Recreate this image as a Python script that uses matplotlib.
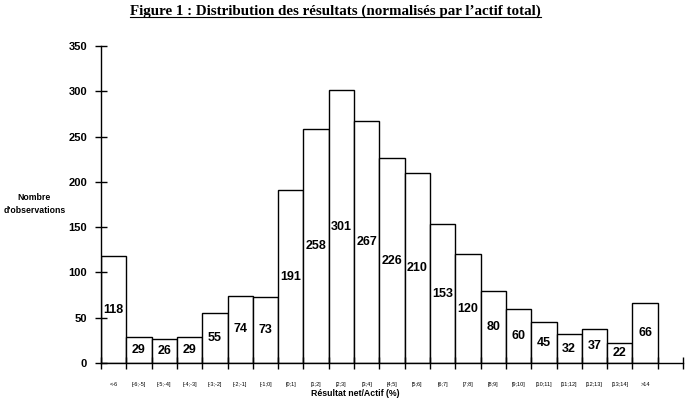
import matplotlib
matplotlib.use("Agg")
import matplotlib.pyplot as plt
from matplotlib.lines import Line2D
import numpy as np

categories = ["<-6", "[-6;-5]", "[-5;-4]", "[-4;-3]", "[-3;-2]", "[-2;-1]", "[-1;0]",
              "[0;1]", "[1;2]", "[2;3]", "[3;4]", "[4;5]", "[5;6]", "[6;7]", "[7;8]",
              "[8;9]", "[9;10]", "[10;11]", "[11;12]", "[12;13]", "[13;14]", ">14"]
counts = [118, 29, 26, 29, 55, 74, 73, 191, 258, 301, 267, 226, 210, 153, 120,
          80, 60, 45, 32, 37, 22, 66]

yticks = [0, 50, 100, 150, 200, 250, 300, 350]

plt.rcParams["font.family"] = ["Liberation Sans", "DejaVu Sans"]

fig = plt.figure(figsize=(6.9, 4.04), dpi=100)
ax = fig.add_axes([0.1464, 0.1015, 0.8435, 0.7845])

n = len(counts)
x = np.arange(n)
ax.bar(x + 0.5, counts, width=1.0, color="white", edgecolor="black", linewidth=1.0)

# value label in the middle of each bar
for xi, v in zip(x, counts):
    ax.text(xi + 0.5, v / 2, str(v), ha="center", va="center",
            fontsize=9, fontweight="bold")

ax.set_xlim(0, n + 1)
ax.set_ylim(0, 350)
ax.set_yticks(yticks)
ax.set_yticklabels([str(t) for t in yticks], fontsize=8, fontweight="bold")
ax.set_xticks(np.arange(0, n + 2))
ax.set_xticklabels([])
ax.set_xticks(x + 0.5, minor=True)
ax.set_xticklabels(categories, minor=True, fontsize=4)
ax.tick_params(axis="x", which="minor", length=0, pad=14)
ax.tick_params(axis="both", which="major", direction="inout", length=8, width=1)
ax.tick_params(axis="y", pad=6)

for s in ["top", "right"]:
    ax.spines[s].set_visible(False)
ax.spines["left"].set_linewidth(1)
ax.spines["bottom"].set_linewidth(1)

fig.text(0.515, 0.027, "Résultat net/Actif (%)", ha="center", va="center",
         fontsize=6.3, fontweight="bold")
fig.text(0.05, 0.495, "Nombre\nd'observations", ha="center", va="center",
         fontsize=6.3, fontweight="bold", linespacing=1.6)

title = fig.text(0.486, 0.972, "Figure 1 : Distribution des résultats (normalisés par l\u2019actif total)",
                 ha="center", va="center", fontsize=10.8, fontweight="bold",
                 family="Liberation Serif")
renderer = fig.canvas.get_renderer()
bb = title.get_window_extent(renderer).transformed(fig.transFigure.inverted())
fig.add_artist(Line2D([bb.x0, bb.x1], [bb.y0 + 0.002, bb.y0 + 0.002],
                      transform=fig.transFigure, color="black", linewidth=0.8))

fig.savefig("out.png", dpi=100)
